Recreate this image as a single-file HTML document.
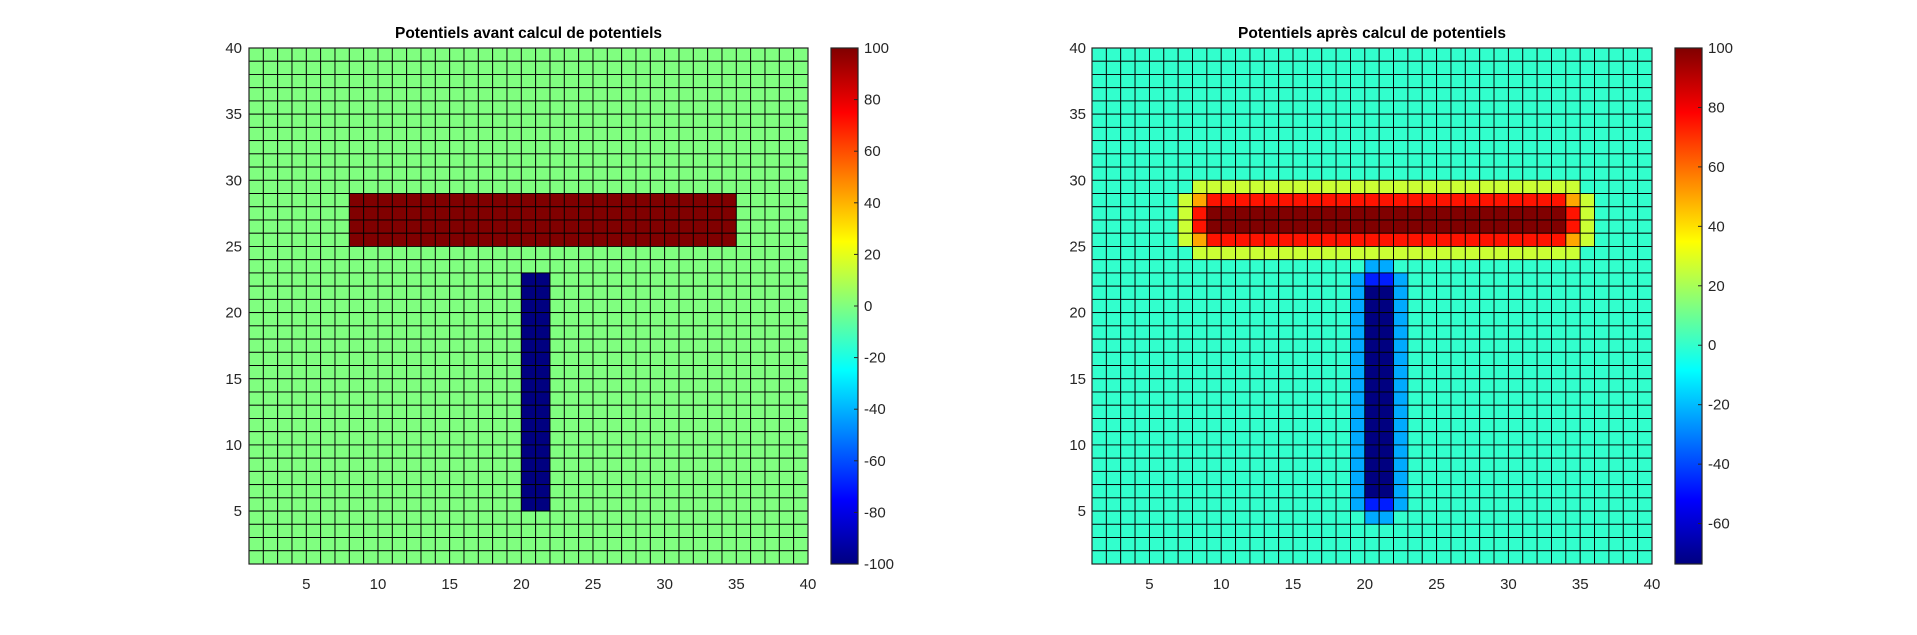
<!DOCTYPE html>
<html>
<head>
<meta charset="utf-8">
<style>
html,body{margin:0;padding:0;background:#fff;width:1917px;height:635px;overflow:hidden;}
svg{display:block;font-family:"Liberation Sans",Arial,sans-serif;}
</style>
</head>
<body>
<svg id="fig" width="1917" height="635" viewBox="0 0 1917 635" xmlns="http://www.w3.org/2000/svg"></svg>
<script>
// ---- data (run-length encoded rows, top row = y 39 down to y 1) ----
const leftLevels = {'.':0,'R':100,'B':-100};
const leftRows = [
"39.","39.","39.","39.","39.","39.","39.","39.","39.","39.","39.",
"7.27R5.","7.27R5.","7.27R5.","7.27R5.",
"39.","39.",
"19.2B18.","19.2B18.","19.2B18.","19.2B18.","19.2B18.","19.2B18.","19.2B18.","19.2B18.","19.2B18.",
"19.2B18.","19.2B18.","19.2B18.","19.2B18.","19.2B18.","19.2B18.","19.2B18.","19.2B18.","19.2B18.",
"39.","39.","39.","39."
];
const rightLevels = {'.':0,'y':26,'o':50,'r':75,'D':100,'c':-23,'m':-47,'b':-73.6};
const rightRows = [
"39.","39.","39.","39.","39.","39.","39.","39.","39.","39.",
"7.27y5.",
"6.1y1o25r1o1y4.",
"6.1y1r25D1r1y4.",
"6.1y1r25D1r1y4.",
"6.1y1o25r1o1y4.",
"7.27y5.",
"19.2c18.",
"18.1c2m1c17.",
"18.1c2b1c17.","18.1c2b1c17.","18.1c2b1c17.","18.1c2b1c17.","18.1c2b1c17.","18.1c2b1c17.","18.1c2b1c17.","18.1c2b1c17.",
"18.1c2b1c17.","18.1c2b1c17.","18.1c2b1c17.","18.1c2b1c17.","18.1c2b1c17.","18.1c2b1c17.","18.1c2b1c17.","18.1c2b1c17.",
"18.1c2m1c17.",
"19.2c18.",
"39.","39.","39."
];
const axisTicks = [5,10,15,20,25,30,35,40];
const leftCbarTicks = [-100,-80,-60,-40,-20,0,20,40,60,80,100];
const rightCbarTicks = [-60,-40,-20,0,20,40,60,80,100];
const leftCRange = [-100,100];
const rightCRange = [-73.6,100];
const titles = ["Potentiels avant calcul de potentiels","Potentiels après calcul de potentiels"];

const NS = "http://www.w3.org/2000/svg";
const svg = document.getElementById('fig');
function mk(tag, attrs, parent){
  const e = document.createElementNS(NS, tag);
  for (const k in attrs) e.setAttribute(k, attrs[k]);
  (parent||svg).appendChild(e);
  return e;
}
function decode(row){
  const out = []; const re = /(\d+)(.)/g; let m;
  while ((m = re.exec(row))) for (let i=0;i<+m[1];i++) out.push(m[2]);
  return out;
}
function jet(t){
  t = Math.max(0, Math.min(1, t));
  const c = v => Math.round(255*Math.max(0, Math.min(1, v)));
  return `rgb(${c(1.5-Math.abs(4*t-3))},${c(1.5-Math.abs(4*t-2))},${c(1.5-Math.abs(4*t-1))})`;
}

function drawPanel(cfg){
  const {x0,x1,y0,y1,cb0,cb1,rows,levels,crange,cticks,title,prefix,ylabX} = cfg;
  const xs = v => x0 + (v-1)/39*(x1-x0);
  const ys = v => y1 - (v-1)/39*(y1-y0);
  const g = mk('g', {});
  
  
  rows.forEach((row, ri) => {
    const yv = 39 - ri;
    decode(row).forEach((ch, ci) => {
      const xv = ci + 1;
      const val = levels[ch];
      const r = mk('rect', {x: xs(xv), y: ys(yv+1), width: xs(xv+1)-xs(xv), height: ys(yv)-ys(yv+1),
        fill: jet((val-crange[0])/(crange[1]-crange[0])), stroke:'#000', 'stroke-width':0.9}, g);
      
      
    });
  });
  const box = mk('rect', {x:x0, y:y0, width:x1-x0, height:y1-y0, fill:'none', stroke:'#262626', 'stroke-width':1.2});
  
  
  axisTicks.forEach(v => {
    const tx = mk('text', {x: xs(v), y: 589, 'text-anchor':'middle', 'font-size':15, fill:'#262626'});
    tx.textContent = v;
    
    
    const ty = mk('text', {x: ylabX, y: ys(v)+5, 'text-anchor':'end', 'font-size':15, fill:'#262626'});
    ty.textContent = v;
    
    
  });
  const t = mk('text', {x:(x0+x1)/2, y:38, 'text-anchor':'middle', 'font-size':15.5, 'font-weight':'bold', fill:'#000'});
  t.textContent = title;
  
  
  // colorbar
  const gid = prefix+'-jet';
  const defs = mk('defs', {});
  const lg = mk('linearGradient', {id:gid, x1:0, y1:1, x2:0, y2:0}, defs);
  for (let i=0;i<=16;i++){ mk('stop', {offset: i/16, 'stop-color': jet(i/16)}, lg); }
  const cb = mk('rect', {x:cb0, y:y0, width:cb1-cb0, height:y1-y0, fill:`url(#${gid})`, stroke:'#262626', 'stroke-width':1.2});
  
  
  const cs = v => y1 - (v-crange[0])/(crange[1]-crange[0])*(y1-y0);
  cticks.forEach(v => {
    const tk = mk('line', {x1:cb1-4, x2:cb1, y1:cs(v), y2:cs(v), stroke:'#262626', 'stroke-width':1});
    
    
    const l = mk('text', {x:cb1+6, y:cs(v)+5, 'font-size':15, fill:'#262626'});
    l.textContent = v;
    
    
  });
}

drawPanel({x0:249,x1:808,y0:48,y1:564,cb0:831,cb1:858,rows:leftRows,levels:leftLevels,crange:leftCRange,
  cticks:leftCbarTicks,title:titles[0],prefix:'left',ylabX:242});
drawPanel({x0:1092,x1:1652,y0:48,y1:564,cb0:1675,cb1:1702,rows:rightRows,levels:rightLevels,crange:rightCRange,
  cticks:rightCbarTicks,title:titles[1],prefix:'right',ylabX:1086});
</script>
</body>
</html>
